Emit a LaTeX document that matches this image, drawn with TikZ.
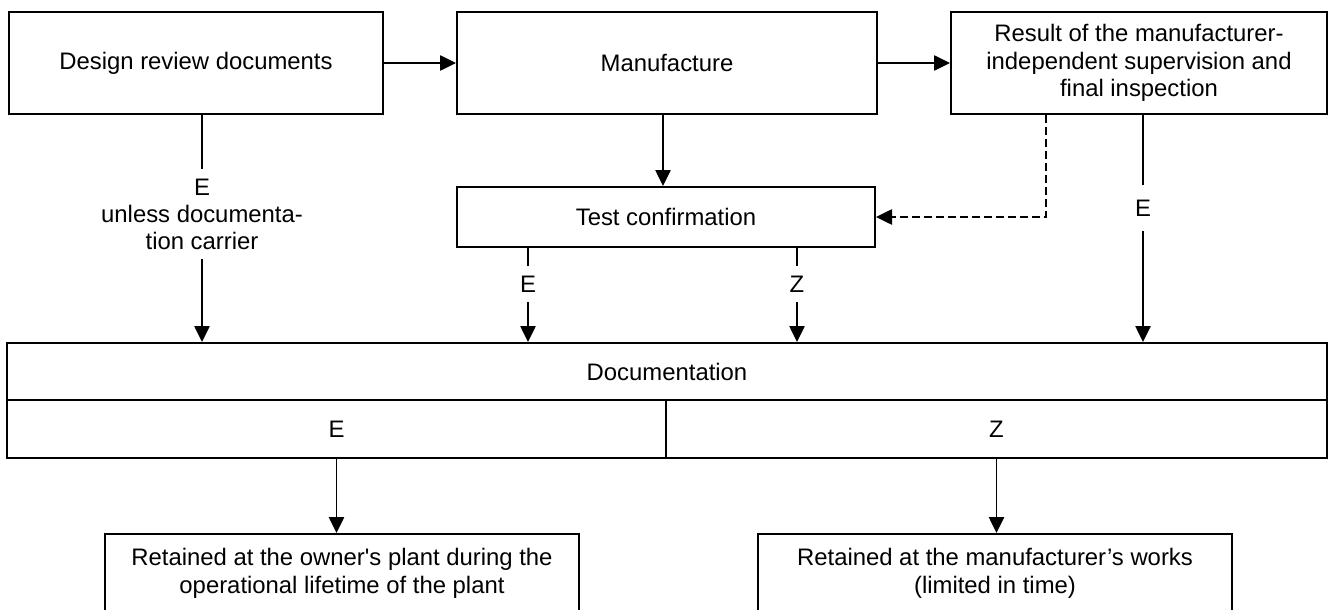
\documentclass[tikz,border=0pt]{standalone}
\usepackage{fontspec}
\setmainfont{Liberation Sans}
\usetikzlibrary{arrows.meta, positioning, calc}

\begin{document}
\begin{tikzpicture}[x=0.75pt, y=-0.75pt,
    box/.style={draw, line width=1.5pt, inner sep=0pt, align=center, font=\fontsize{17.9}{20.6}\selectfont},
    lbl/.style={inner xsep=2pt, inner ysep=7pt, align=center, font=\fontsize{17.9}{20.2}\selectfont},
    arr/.style={line width=1.1pt, -{Triangle[length=12pt, width=11.5pt]}},
    conn/.style={line width=1.1pt}]
  \useasboundingbox (0,0) rectangle (1329,610);

  % Top row
  \node[box, minimum width=280.5pt, minimum height=76.5pt] (design) at (196,63) {Design review documents};
  \node[box, minimum width=315pt, minimum height=76.5pt] (manuf) at (667,63) {Manufacture};
  \node[box, minimum width=282pt, minimum height=76.5pt] (result) at (1139,63) {Result of the manufacturer-\\independent supervision and\\final inspection};
  \node[box, minimum width=313.5pt, minimum height=45pt] (test) at (666,217) {Test confirmation};

  \draw[arr] (design.east) -- (manuf.west);
  \draw[arr] (manuf.east) -- (result.west);
  \draw[arr] ([xshift=-3pt]manuf.south) -- ([xshift=-3pt]manuf.south |- test.north);
  \draw[arr, dash pattern=on 6pt off 3pt] (result.south west) ++(96,0) |- (test.east);

  % Documentation
  \node[box, minimum width=990pt, minimum height=42.75pt] (doc) at (667,371.5) {Documentation};
  \node[box, minimum width=494.25pt, minimum height=43.5pt] (docE) at (336.5,429) {E};
  \node[box, minimum width=495.75pt, minimum height=43.5pt] (docZ) at (996.5,429) {Z};

  % Labels on the lines
  \node[lbl] (lblD) at (202,214) {E\\unless documenta-\\tion carrier};
  \node[lbl] (lblTE) at (528,284) {E};
  \node[lbl] (lblTZ) at (797,284) {Z};
  \node[lbl, inner ysep=11pt] (lblR) at (1143,208) {E};

  \draw[conn] (lblD |- design.south) -- (lblD.north);
  \draw[arr] (lblD.south) -- (lblD.south |- doc.north);
  \draw[conn] (lblTE |- test.south) -- (lblTE.north);
  \draw[arr] (lblTE.south) -- (lblTE.south |- doc.north);
  \draw[conn] (lblTZ |- test.south) -- (lblTZ.north);
  \draw[arr] (lblTZ.south) -- (lblTZ.south |- doc.north);
  \draw[conn] (lblR |- result.south) -- (lblR.north);
  \draw[arr] (lblR.south) -- (lblR.south |- doc.north);

  % Retention
  \node[box, minimum width=355.5pt, minimum height=59.25pt] (owner) at (342,573.5) {Retained at the owner\textquotesingle s plant during the\\operational lifetime of the plant};
  \node[box, minimum width=355.5pt, minimum height=59.25pt] (works) at (995,573.5) {Retained at the manufacturer’s works\\(limited in time)};

  \draw[arr] (docE.south) -- (docE.south |- owner.north);
  \draw[arr] (docZ.south) -- (docZ.south |- works.north);
\end{tikzpicture}
\end{document}
